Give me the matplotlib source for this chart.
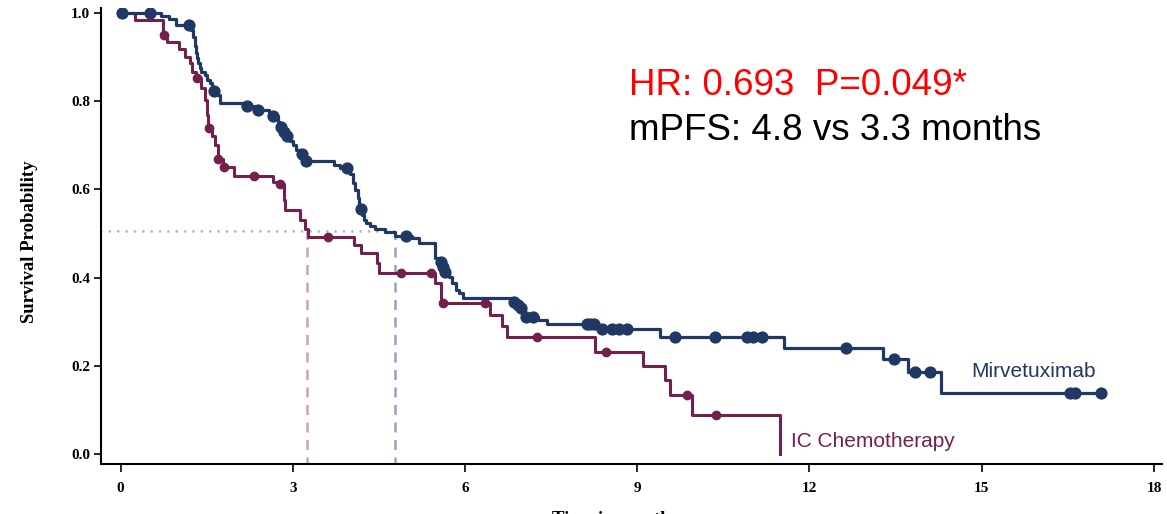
import numpy as np
import matplotlib
matplotlib.use("Agg")
import matplotlib.pyplot as plt
from matplotlib import font_manager

# ---------------- data ----------------
mirv_times = [0, 0.70, 0.84, 0.96, 1.22, 1.26, 1.29, 1.31, 1.33, 1.35, 1.38, 1.41, 1.47, 1.51,
              1.56, 1.60, 1.67, 1.73, 2.14, 2.35, 2.58, 2.63, 2.74, 2.78, 2.82, 2.88, 2.95, 3.00,
              3.06, 3.12, 3.20, 3.71, 3.83, 4.00, 4.05, 4.09, 4.13, 4.16, 4.21, 4.24, 4.28, 4.34,
              4.44, 4.60, 4.78, 5.08, 5.20, 5.47, 5.55, 5.60, 5.64, 5.72, 5.78, 5.84, 5.90, 5.97,
              6.85, 6.90, 6.96, 7.03, 7.28, 7.42, 8.30, 9.39, 11.56, 13.28, 13.71, 14.29, 17.08]
mirv_surv = [1.0, 0.994, 0.986, 0.973, 0.961, 0.946, 0.924, 0.909, 0.897, 0.886, 0.875, 0.867,
             0.859, 0.848, 0.841, 0.822, 0.814, 0.797, 0.788, 0.780, 0.771, 0.766, 0.752, 0.742,
             0.731, 0.720, 0.710, 0.701, 0.690, 0.680, 0.665, 0.655, 0.648, 0.636, 0.614, 0.599,
             0.580, 0.555, 0.542, 0.531, 0.523, 0.517, 0.510, 0.504, 0.495, 0.489, 0.478, 0.444,
             0.436, 0.425, 0.413, 0.402, 0.387, 0.372, 0.364, 0.353, 0.345, 0.338, 0.330, 0.311,
             0.304, 0.294, 0.283, 0.265, 0.241, 0.215, 0.185, 0.139, 0.139]
mirv_censor = [0.02, 0.52, 1.19, 1.63, 2.20, 2.40, 2.66, 2.79, 2.84, 2.90, 3.16, 3.23, 3.95,
               4.18, 4.98, 5.58, 5.61, 5.66, 6.86, 6.92, 6.98, 7.06, 7.18, 8.12, 8.18, 8.24,
               8.38, 8.56, 8.69, 8.82, 9.66, 10.35, 10.91, 11.02, 11.17, 12.63, 13.48, 13.84,
               14.10, 16.54, 16.63, 17.08]

chemo_times = [0, 0.25, 0.74, 0.81, 1.02, 1.12, 1.21, 1.25, 1.31, 1.41, 1.47, 1.51, 1.52, 1.59,
               1.65, 1.69, 1.78, 1.98, 2.65, 2.74, 2.84, 2.87, 3.13, 3.22, 3.26, 4.06, 4.18,
               4.47, 4.50, 5.48, 5.59, 6.44, 6.64, 6.74, 8.27, 9.10, 9.48, 9.57, 9.96, 11.49]
chemo_surv = [1.0, 0.984, 0.950, 0.935, 0.918, 0.901, 0.886, 0.867, 0.852, 0.830, 0.803, 0.769,
              0.739, 0.720, 0.701, 0.668, 0.651, 0.631, 0.617, 0.612, 0.576, 0.553, 0.531, 0.510,
              0.493, 0.474, 0.455, 0.432, 0.410, 0.387, 0.342, 0.315, 0.290, 0.265, 0.232, 0.199,
              0.168, 0.134, 0.088, 0.0]
chemo_censor = [0.765, 1.34, 1.535, 1.70, 1.80, 2.33, 2.77, 3.62, 4.88, 5.40, 5.61, 6.35, 7.25,
                8.45, 9.87, 10.38]

median_level = 0.505
median_mirv = 4.78
median_chemo = 3.25

x_ticks = [0, 3, 6, 9, 12, 15, 18]
y_ticks = [0.0, 0.2, 0.4, 0.6, 0.8, 1.0]

navy = "#1F3864"
plum = "#74204F"

# ---------------- fonts ----------------
avail = {f.name for f in font_manager.fontManager.ttflist}
narrow = "Liberation Sans Narrow" if "Liberation Sans Narrow" in avail else "Liberation Sans"
narrow_size = 18 if narrow == "Liberation Sans Narrow" else 15
serif = ["Liberation Serif", "DejaVu Serif"]

# ---------------- figure ----------------
W, H = 1167, 514
fig = plt.figure(figsize=(W / 100, H / 100), dpi=100)
ax = fig.add_axes([101 / W, 50 / H, 1061 / W, 456 / H])


def step_value(times, surv, t):
    idx = np.searchsorted(times, t, side="right") - 1
    return np.asarray(surv)[idx]


# median reference lines
ax.plot([-0.34, median_mirv], [median_level, median_level], color="#B4B4B4", lw=2.0,
        linestyle=(0, (0.01, 3.0)), dash_capstyle="round", zorder=1)
ax.plot([median_chemo, median_chemo], [-0.03, median_level], color="#C9A3BA", lw=1.8,
        linestyle=(0, (4, 3)), zorder=1)
ax.plot([median_mirv, median_mirv], [-0.03, median_level], color="#95A2BE", lw=1.8,
        linestyle=(0, (4, 3)), zorder=1)

# curves
ax.step(chemo_times, chemo_surv, where="post", color=plum, lw=2.2, zorder=3)
ax.plot(chemo_censor, step_value(chemo_times, chemo_surv, chemo_censor), "o", color=plum,
        ms=6, zorder=4)
ax.step(mirv_times, mirv_surv, where="post", color=navy, lw=2.3, zorder=5)
ax.plot(mirv_censor, step_value(mirv_times, mirv_surv, mirv_censor), "o", color=navy,
        ms=7.8, zorder=6)

ax.set_xlim(-0.34, 18.14)
ax.set_ylim(-0.0227, 1.0113)
ax.set_xticks(x_ticks)
ax.set_xticklabels([str(v) for v in x_ticks])
ax.set_yticks(y_ticks)
ax.set_yticklabels([f"{v:.1f}" for v in y_ticks])
for lab in ax.get_xticklabels() + ax.get_yticklabels():
    lab.set_family(serif)
    lab.set_fontweight("bold")
    lab.set_fontsize(11)
ax.tick_params(axis="x", direction="out", length=6, width=1.2, pad=7, colors="black")
ax.tick_params(axis="y", direction="out", length=5, width=1.2, pad=3, colors="black")
for s in ["top", "right"]:
    ax.spines[s].set_visible(False)
for s in ["left", "bottom"]:
    ax.spines[s].set_linewidth(1.5)

fig.text(30 / W, 1 - 242 / H, "Survival Probability", rotation=90, ha="center", va="center",
         family=serif, fontweight="bold", fontsize=13.5)
fig.text(615 / W, 1 - 511 / H, "Time in months", ha="center", va="top",
         family=serif, fontweight="bold", fontsize=13.5)

# annotations
fig.text(629 / W, 1 - 95 / H, "HR: 0.693  P=0.049*", color="#FF0000", fontsize=26.5,
         family=["Liberation Sans", "DejaVu Sans"], ha="left", va="baseline")
fig.text(629 / W, 1 - 140 / H, "mPFS: 4.8 vs 3.3 months", color="black", fontsize=26.5,
         family=["Liberation Sans", "DejaVu Sans"], ha="left", va="baseline")

fig.text(971 / W, 1 - 377 / H, "Mirvetuximab", color=navy, fontsize=narrow_size,
         family=[narrow, "DejaVu Sans"], ha="left", va="baseline")
fig.text(791 / W, 1 - 447 / H, "IC Chemotherapy", color=plum, fontsize=narrow_size,
         family=[narrow, "DejaVu Sans"], ha="left", va="baseline")

fig.savefig("out.png", dpi=100)
